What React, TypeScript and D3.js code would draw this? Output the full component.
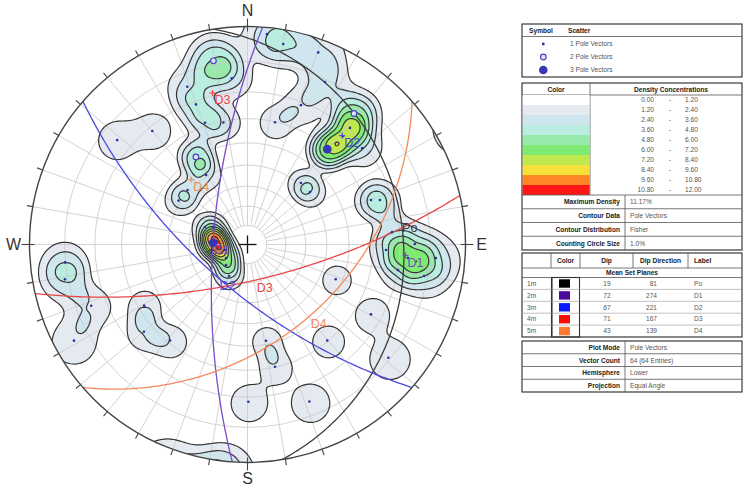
import React, { useMemo } from "react";
import * as d3 from "d3";

// ---------- DATA ----------
// Poles (lower hemisphere): trend, plunge (deg) and multiplicity
const poleTrend = [
  349.5, 354.6, 339.1, 339.8, 340.8, 348.8,
  320.0, 308.7,
  329.5, 329.2, 312.3, 302.5,
  292.4, 296.9, 272.5, 276.3, 210.4, 256.3, 237.9, 226.4,
  10.1, 20.2, 21.0, 12.7, 5.3, 25.5,
  39.9, 39.1, 49.9, 41.4, 41.3,
  41.0, 50.0, 70.2, 71.4,
  89.8, 94.1, 99.6, 92.3, 94.8, 100.1, 85.1,
  111.5, 119.5, 140.3, 128.8, 158.5,
  169.1, 167.3, 179.7,
  239.4, 229.9, 218.9,
  264.4, 259.2, 248.6, 241.0,
];
const polePlunge = [
  8.8, 15.1, 14.5, 21.2, 28.8, 30.6,
  21.6, 15.1,
  40.0, 49.3, 49.2, 48.9,
  66.2, 69.9, 72.0, 73.5, 71.0, 77.9, 76.7, 74.5,
  3.9, 3.6, 21.2, 30.2, 1.8, 10.9,
  30.6, 14.5, 21.0, 23.0, 19.1,
  49.0, 49.0, 27.9, 24.7,
  15.0, 8.2, 20.0, 25.1, 17.1, 11.1, 22.7,
  43.0, 23.9, 30.4, 10.7, 14.5,
  41.6, 30.2, 18.4,
  32.3, 26.3, 31.0,
  9.9, 9.1, 14.8, 5.4,
];
const poleCount = [
  2, 1, 1, 1, 1, 1,
  1, 1,
  2, 1, 1, 1,
  1, 1, 3, 1, 1, 1, 1, 1,
  1, 1, 1, 1, 1, 1,
  3, 2, 1, 1, 1,
  1, 1, 1, 1,
  1, 1, 1, 1, 1, 1, 1,
  1, 1, 1, 1, 1,
  1, 1, 1,
  1, 1, 1,
  1, 1, 1, 1,
];

// Mean set planes
const setIds = ["1m", "2m", "3m", "4m", "5m"];
const setLabels = ["Po", "D1", "D2", "D3", "D4"];
const setDip = [19, 72, 67, 71, 43];
const setDipDir = [81, 274, 221, 167, 139];
const setSwatch = ["#000000", "#4a0a9c", "#0a1cff", "#ff0a0a", "#ff7a2e"];
const setLine = ["#3a3a3a", "#7a4cc6", "#4a4ae2", "#ea4848", "#f48a5a"];
const showPoleLabel = [false, true, true, true, true];

// Density bands
const maxDensity = 11.17;
const densityBreaks = [0, 1.2, 2.4, 3.6, 4.8, 6.0, 7.2, 8.4, 9.6, 10.8, 12.0];
const densityLabels = ["0.00", "1.20", "2.40", "3.60", "4.80", "6.00", "7.20", "8.40", "9.60", "10.80", "12.00"];
const densityColors = ["#ffffff", "#e4eaef", "#cfe6ee", "#b9eddf", "#98eaaa", "#7fea72", "#bfe94e", "#f6e03a", "#ff8526", "#ff1616"];

const scatterLabels = ["1 Pole Vectors", "2 Pole Vectors", "3 Pole Vectors"];
const infoLabels1 = ["Maximum Density", "Contour Data", "Contour Distribution", "Counting Circle Size"];
const infoValues1 = ["11.17%", "Pole Vectors", "Fisher", "1.0%"];
const infoLabels2 = ["Plot Mode", "Vector Count", "Hemisphere", "Projection"];
const infoValues2 = ["Pole Vectors", "64 (64 Entries)", "Lower", "Equal Angle"];
const cardinalLabels = ["N", "E", "S", "W"];
const cardinalAz = [0, 90, 180, 270];
const gridPlunges = [80, 70, 60, 50, 40, 30, 20, 10];

// ---------- LAYOUT / MODEL PARAMS ----------
const W = 743;
const H = 487;
const CX = 247.5;
const CY = 244.5;
const R = 218;
const KERNEL_DEG = 7.6;
const KERNEL_POW = 2.8;
const FONT = "'Liberation Sans', Arial, sans-serif";
const rad = Math.PI / 180;

const rScale = d3.scaleLinear().domain([0, 1]).range([0, R]);

function proj(trend: number, plunge: number): [number, number] {
  const r = rScale(Math.tan(((90 - plunge) * rad) / 2));
  return [CX + r * Math.sin(trend * rad), CY - r * Math.cos(trend * rad)];
}
function vec(trend: number, plunge: number): number[] {
  return [
    Math.cos(plunge * rad) * Math.cos(trend * rad),
    Math.cos(plunge * rad) * Math.sin(trend * rad),
    Math.sin(plunge * rad),
  ];
}
function toTP(v: number[]): [number, number] {
  let [a, b, c] = v;
  if (c < 0) {
    a = -a;
    b = -b;
    c = -c;
  }
  const len = Math.hypot(a, b, c);
  return [Math.atan2(b, a) / rad, Math.asin(Math.min(1, c / len)) / rad];
}

function greatCircle(dip: number, dipDir: number): [number, number][] {
  const s = vec(dipDir - 90, 0);
  const dv = vec(dipDir, dip);
  const pts: [number, number][] = [];
  for (let t = 0; t <= 180; t += 1) {
    const c = Math.cos(t * rad);
    const sn = Math.sin(t * rad);
    const v = [c * s[0] + sn * dv[0], c * s[1] + sn * dv[1], c * s[2] + sn * dv[2]];
    if (v[2] < 0) v[2] = 0;
    const [tr, pl] = toTP(v);
    pts.push(proj(tr, pl));
  }
  return pts;
}

export default function App() {
  const step = 2;
  const x0 = CX - R - 8;
  const y0 = CY - R - 8;
  const n = Math.ceil((2 * R + 16) / step) + 1;

  const contours = useMemo(() => {
    const pv = poleTrend.map((t, i) => vec(t, polePlunge[i]));
    const cut = Math.cos(24 * rad);
    const values = new Array(n * n).fill(0);
    let vmax = 0;
    for (let j = 0; j < n; j++) {
      for (let i = 0; i < n; i++) {
        const px = x0 + i * step;
        const py = y0 + j * step;
        const dx = (px - CX) / R;
        const dy = (py - CY) / R;
        const rho = Math.hypot(dx, dy);
        const colat = 2 * Math.atan(rho);
        const plunge = 90 - colat / rad;
        const trend = Math.atan2(dx, -dy) / rad;
        const u = vec(trend, plunge);
        let s = 0;
        for (let k = 0; k < pv.length; k++) {
          const p = pv[k];
          const dot = Math.abs(u[0] * p[0] + u[1] * p[1] + u[2] * p[2]);
          if (dot > cut) {
            const th = Math.acos(Math.min(1, dot)) / rad / KERNEL_DEG;
            s += poleCount[k] * Math.exp(-Math.pow(th, KERNEL_POW));
          }
        }
        values[i + j * n] = s;
        if (rho <= 1 && s > vmax) vmax = s;
      }
    }
    const k = maxDensity / vmax;
    for (let q = 0; q < values.length; q++) values[q] *= k;
    return d3.contours().size([n, n]).thresholds(densityBreaks.slice(1, 10))(values);
  }, []);

  const path = d3.geoPath(d3.geoIdentity().scale(step).translate([x0, y0]) as any);
  const line = d3.line();

  const colat10 = rScale(Math.tan((10 * rad) / 2));

  // legend helpers
  const LX = 522;
  const LW = 220;
  const lab = { fontFamily: FONT, fontSize: 6.6, fill: "#222", fontWeight: 700 } as const;
  const val = { fontFamily: FONT, fontSize: 6.6, fill: "#555" } as const;
  const box = { fill: "#fff", stroke: "#3a3a3a", strokeWidth: 1.2 } as const;
  const thin = { stroke: "#555", strokeWidth: 0.8 } as const;

  return (
    <svg width={W} height={H} style={{ position: "absolute", left: 0, top: 0, background: "#fff" }}>
      <defs>
        <clipPath id="prim">
          <circle cx={CX} cy={CY} r={R} />
        </clipPath>
      </defs>
      <rect x={0} y={0} width={W} height={H} fill="#fff" />
      <circle cx={CX} cy={CY} r={R} fill="#fff" />

      <g clipPath="url(#prim)">
        {contours.map((c, k) => (
          <path key={"f" + k} d={path(c as any) || ""} fill={densityColors[k + 1]} stroke="none" />
        ))}
        {/* grid */}
        <g stroke="#c9c9c9" strokeWidth={0.9} fill="none" opacity={0.9}>
          {gridPlunges.map((p) => (
            <circle key={"r" + p} cx={CX} cy={CY} r={rScale(Math.tan(((90 - p) * rad) / 2))} />
          ))}
          {d3.range(0, 360, 10).map((az) => (
            <line
              key={"s" + az}
              x1={CX + colat10 * Math.sin(az * rad)}
              y1={CY - colat10 * Math.cos(az * rad)}
              x2={CX + R * Math.sin(az * rad)}
              y2={CY - R * Math.cos(az * rad)}
            />
          ))}
        </g>
        {contours.map((c, k) => (
          <path key={"l" + k} d={path(c as any) || ""} fill="none" stroke="#353535" strokeWidth={1.2} />
        ))}
        {/* great circles */}
        {setDip.map((dip, i) => (
          <path key={"gc" + i} d={line(greatCircle(dip, setDipDir[i])) || ""} fill="none" stroke={setLine[i]} strokeWidth={1.3} />
        ))}
      </g>

      {/* primitive and ticks */}
      <circle cx={CX} cy={CY} r={R} fill="none" stroke="#444" strokeWidth={1.4} />
      {d3.range(0, 360, 10).map((az) => {
        const card = az % 90 === 0;
        const r1 = card ? R - 5 : R;
        const r2 = card ? R + 8 : R + 6;
        return (
          <line
            key={"t" + az}
            x1={CX + r1 * Math.sin(az * rad)}
            y1={CY - r1 * Math.cos(az * rad)}
            x2={CX + r2 * Math.sin(az * rad)}
            y2={CY - r2 * Math.cos(az * rad)}
            stroke="#444"
            strokeWidth={1.1}
          />
        );
      })}
      {cardinalLabels.map((l, i) => {
        const az = cardinalAz[i];
        const rr = R + 16;
        return (
          <text
            key={l}
            x={CX + rr * Math.sin(az * rad)}
            y={CY - rr * Math.cos(az * rad)}
            textAnchor="middle"
            dominantBaseline="central"
            fontFamily={FONT}
            fontSize={16}
            fill="#333"
          >
            {l}
          </text>
        );
      })}
      {/* center cross */}
      <line x1={CX - 9} y1={CY} x2={CX + 9} y2={CY} stroke="#111" strokeWidth={1.3} />
      <line x1={CX} y1={CY - 9} x2={CX} y2={CY + 9} stroke="#111" strokeWidth={1.3} />

      {/* poles */}
      {poleTrend.map((t, i) => {
        const [x, y] = proj(t, polePlunge[i]);
        const c = poleCount[i];
        if (c === 1) return <circle key={"p" + i} cx={x} cy={y} r={1.3} fill="#2d2da6" />;
        if (c === 2)
          return <circle key={"p" + i} cx={x} cy={y} r={2.8} fill="#e2e2f2" stroke="#4646c4" strokeWidth={1.2} />;
        return <circle key={"p" + i} cx={x} cy={y} r={4.4} fill="#3636b6" />;
      })}

      {/* mean set pole marks and labels */}
      {setDip.map((dip, i) => {
        const [px, py] = proj(setDipDir[i] + 180, 90 - dip);
        const [gx, gy] = proj(setDipDir[i], dip);
        return (
          <g key={"lab" + i} fontFamily={FONT} fontSize={12.5} fill={setLine[i]}>
            <line x1={px - 3} y1={py} x2={px + 3} y2={py} stroke={setLine[i]} strokeWidth={1.2} />
            <line x1={px} y1={py - 3} x2={px} y2={py + 3} stroke={setLine[i]} strokeWidth={1.2} />
            {showPoleLabel[i] && <text x={px + 2} y={py + 11}>{setLabels[i]}</text>}
            <text x={gx + 1} y={gy + 12}>{setLabels[i]}</text>
          </g>
        );
      })}

      {/* ---------- LEGEND ---------- */}
      {/* Table 1: symbols */}
      <rect x={LX} y={24} width={LW} height={53} {...box} />
      <line x1={LX} y1={36.5} x2={LX + LW} y2={36.5} {...thin} />
      <text x={541} y={33} textAnchor="middle" {...lab}>Symbol</text>
      <text x={568} y={33} {...lab}>Scatter</text>
      {scatterLabels.map((s, i) => {
        const y = 44 + 13 * i;
        return (
          <g key={"sc" + i}>
            {i === 0 && <circle cx={543.3} cy={y} r={1.4} fill="#2d2da6" />}
            {i === 1 && <circle cx={543.3} cy={y} r={2.8} fill="#e2e2f2" stroke="#4646c4" strokeWidth={1.2} />}
            {i === 2 && <circle cx={543.3} cy={y} r={4.3} fill="#3636b6" />}
            <text x={570} y={y + 2.3} {...val}>{s}</text>
          </g>
        );
      })}

      {/* Table 2: density */}
      <rect x={LX} y={83} width={LW} height={167} {...box} />
      <line x1={LX} y1={95} x2={LX + LW} y2={95} {...thin} />
      <line x1={590} y1={83} x2={590} y2={195} {...thin} />
      <text x={556} y={91.5} textAnchor="middle" {...lab}>Color</text>
      <text x={671} y={91.5} textAnchor="middle" {...lab}>Density Concentrations</text>
      {densityColors.map((c, k) => (
        <g key={"d" + k}>
          <rect x={LX + 0.6} y={95 + 10 * k} width={590 - LX - 1} height={10} fill={c} />
          <text x={654} y={102.3 + 10 * k} textAnchor="end" {...val}>{densityLabels[k]}</text>
          <text x={670} y={102.3 + 10 * k} textAnchor="middle" {...val}>-</text>
          <text x={685} y={102.3 + 10 * k} {...val}>{densityLabels[k + 1]}</text>
        </g>
      ))}
      <line x1={LX} y1={195} x2={LX + LW} y2={195} {...thin} />
      {infoLabels1.map((l, i) => {
        const top = 195 + 13.75 * i;
        return (
          <g key={"i1" + i}>
            {i > 0 && <line x1={LX} y1={top} x2={LX + LW} y2={top} {...thin} />}
            <text x={620} y={top + 9.3} textAnchor="end" {...lab}>{l}</text>
            <text x={630} y={top + 9.3} {...val}>{infoValues1[i]}</text>
          </g>
        );
      })}
      <line x1={625} y1={195} x2={625} y2={250} {...thin} />

      {/* Table 3: mean set planes */}
      <rect x={LX} y={253} width={LW} height={84} {...box} />
      <line x1={LX} y1={268} x2={LX + LW} y2={268} {...thin} />
      {[551, 580, 633, 688].map((x) => (
        <line key={"v" + x} x1={x} y1={253} x2={x} y2={268} {...thin} />
      ))}
      <text x={565.5} y={263} textAnchor="middle" {...lab}>Color</text>
      <text x={606.5} y={263} textAnchor="middle" {...lab}>Dip</text>
      <text x={660.5} y={263} textAnchor="middle" {...lab}>Dip Direction</text>
      <text x={694} y={263} {...lab}>Label</text>
      <text x={632} y={275} textAnchor="middle" {...lab}>Mean Set Planes</text>
      <line x1={LX} y1={277.5} x2={LX + LW} y2={277.5} {...thin} />
      <rect x={551.5} y={277.5} width={28} height={59.5} fill="none" stroke="#333" strokeWidth={1.1} />
      <line x1={LX + 30} y1={277.5} x2={LX + 30} y2={337} stroke="#333" strokeWidth={1.1} />
      {setIds.map((id, i) => {
        const top = 277.5 + 11.9 * i;
        return (
          <g key={"ms" + i}>
            {i > 0 && <line x1={LX} y1={top} x2={LX + LW} y2={top} stroke="#999" strokeWidth={0.6} />}
            <text x={527} y={top + 8.2} {...val}>{id}</text>
            <rect x={559} y={top + 1.8} width={11} height={8.4} fill={setSwatch[i]} />
            <text x={607} y={top + 8.2} textAnchor="middle" {...val}>{setDip[i]}</text>
            <text x={657} y={top + 8.2} textAnchor="end" {...val}>{setDipDir[i]}</text>
            <text x={694} y={top + 8.2} {...val}>{setLabels[i]}</text>
          </g>
        );
      })}

      {/* Table 4: plot info */}
      <rect x={LX} y={341} width={LW} height={51} {...box} />
      <line x1={625} y1={341} x2={625} y2={392} {...thin} />
      {infoLabels2.map((l, i) => {
        const top = 341 + 12.75 * i;
        return (
          <g key={"i2" + i}>
            {i > 0 && <line x1={LX} y1={top} x2={LX + LW} y2={top} {...thin} />}
            <text x={620} y={top + 8.8} textAnchor="end" {...lab}>{l}</text>
            <text x={630} y={top + 8.8} {...val}>{infoValues2[i]}</text>
          </g>
        );
      })}
    </svg>
  );
}
